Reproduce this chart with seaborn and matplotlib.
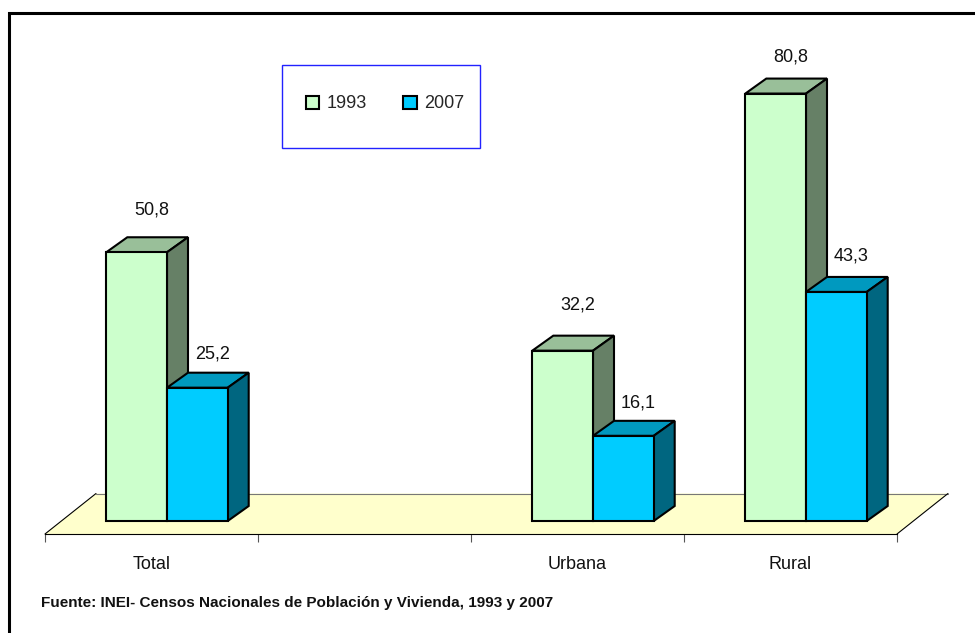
import numpy as np
import pandas as pd
import matplotlib
matplotlib.use("Agg")
import matplotlib.pyplot as plt
from matplotlib.patches import Patch, Polygon, Rectangle
from matplotlib.lines import Line2D
from matplotlib.transforms import IdentityTransform
import seaborn as sns

# values
categories = ["Total", " ", "Urbana", "Rural"]
years = ["1993", "2007"]
values_1993 = [50.8, np.nan, 32.2, 80.8]
values_2007 = [25.2, np.nan, 16.1, 43.3]

front_colors = ["#CCFFCC", "#00CCFF"]
top_colors = ["#99BF99", "#0099BF"]
side_colors = ["#668066", "#006680"]

W, H = 975, 633
DEPTH_X, DEPTH_Y = 21, 15
FS = 13

sns.set_style("white")
plt.rcParams["font.family"] = ["Liberation Sans", "DejaVu Sans"]
plt.rcParams["font.size"] = FS

df = pd.DataFrame({
    "cat": categories * 2,
    "year": [years[0]] * 4 + [years[1]] * 4,
    "val": values_1993 + values_2007,
})

fig = plt.figure(figsize=(W / 100, H / 100), dpi=100)
# axes box in pixels: x 45-897, y 20-534
ax = fig.add_axes([45 / W, 1 - 534 / H, 852 / W, 514 / H])
ax.patch.set_alpha(0)

sns.barplot(data=df, x="cat", y="val", hue="year", order=categories, hue_order=years,
            palette=front_colors, saturation=1, width=0.57, gap=0, legend=False,
            edgecolor="black", linewidth=1.5, ax=ax)

# bars sit 15.5 px right of the floor's tick slots, because of the fake depth
shift = 15.5 / 213
ax.set_xlim(-0.5 - shift, 3.5 - shift)
px_per_unit = 5.29
ax.set_ylim(-13 / px_per_unit, 501 / px_per_unit)
ax.set_xlabel("")
ax.set_ylabel("")
ax.set_yticks([])
sns.despine(ax=ax, left=True)
ax.spines["bottom"].set_color("black")
ax.spines["bottom"].set_linewidth(0.8)
ax.set_xticks([i - shift for i in range(4)])
ax.set_xticklabels(categories)
ax.set_xticks([i - 0.5 - shift for i in range(5)], minor=True)
ax.tick_params(axis="x", which="major", length=0, pad=15.5, labelsize=FS, colors="#111111")
ax.tick_params(axis="x", which="minor", length=6, width=0.8, color="#555555", bottom=True)

fig.canvas.draw()
to_px = ax.transData
ident = IdentityTransform()

# floor
def fig_xy(x, y):
    return (x, H - y)

floor = Polygon([fig_xy(45, 534), fig_xy(897, 534), fig_xy(948, 493.5), fig_xy(96, 493.5)],
                closed=True, transform=ident, facecolor="#FFFFCC", edgecolor="none", zorder=0.5)
ax.add_patch(floor)
floor.set_clip_on(False)
for a, b, c in [((96, 493.5), (948, 493.5), "#777777"),
                ((45, 534), (96, 493.5), "black"),
                ((897, 534), (948, 493.5), "black")]:
    ln = Line2D(*zip(fig_xy(*a), fig_xy(*b)), transform=ident, color=c, lw=0.8, zorder=0.6)
    ln.set_clip_on(False)
    ax.add_line(ln)

# top and side faces of each bar, worked out from the seaborn bars
for n, cont in enumerate(ax.containers):
    for bar in cont:
        h = bar.get_height()
        if np.isnan(h) or h == 0:
            continue
        bar.set_zorder(3 + 2 * n)
        x0, y0 = to_px.transform((bar.get_x(), 0))
        x1, y1 = to_px.transform((bar.get_x() + bar.get_width(), h))
        top = [(x0, y1), (x1, y1), (x1 + DEPTH_X, y1 + DEPTH_Y), (x0 + DEPTH_X, y1 + DEPTH_Y)]
        side = [(x1, y0), (x1, y1), (x1 + DEPTH_X, y1 + DEPTH_Y), (x1 + DEPTH_X, y0 + DEPTH_Y)]
        for pts, col in [(top, top_colors[n]), (side, side_colors[n])]:
            p = Polygon(pts, closed=True, transform=ident, facecolor=col, edgecolor="black",
                        lw=1.5, zorder=2 + 2 * n, joinstyle="miter")
            p.set_clip_on(False)
            ax.add_patch(p)

# data labels, lift in px above the front top edge
label_lift = [[42, 42, 46, 37], [34, 34, 33, 36]]
for n, vals in enumerate([values_1993, values_2007]):
    for k, v in enumerate(vals):
        if np.isnan(v):
            continue
        xc = k + (n - 0.5) * 0.285
        ax.annotate(f"{v:.1f}".replace(".", ","), (xc, v), xytext=(15, label_lift[n][k]),
                    textcoords="offset pixels", ha="center", va="center", fontsize=FS,
                    color="#111111", annotation_clip=False, zorder=10)

# legend box and legend
box = Rectangle((282 / W, 1 - 148 / H), 198 / W, 83 / H, transform=fig.transFigure,
                facecolor="white", edgecolor="#2222FF", lw=1.0, zorder=8)
fig.add_artist(box)
handles = [Patch(facecolor=c, edgecolor="black", lw=1.5, label=y)
           for c, y in zip(front_colors, years)]
leg = fig.legend(handles=handles, ncols=2, loc="center", bbox_to_anchor=(385 / W, 1 - 104 / H),
                 frameon=False, fontsize=FS, handlelength=0.75, handleheight=0.75,
                 handletextpad=0.42, columnspacing=2.0, borderpad=0)
leg.set_zorder(9)

# outer frame, runs off the right and bottom edges
frame = Line2D([9 / W, 9 / W, 1.01], [-0.01, 1 - 13 / H, 1 - 13 / H], transform=fig.transFigure,
               color="black", lw=2.2, solid_joinstyle="miter")
fig.add_artist(frame)

fig.text(41 / W, 1 - 603 / H, "Fuente: INEI- Censos Nacionales de Población y Vivienda, 1993 y 2007",
         fontsize=11, fontweight="bold", ha="left", va="center", color="#111111")

fig.savefig("out.png", dpi=100)
